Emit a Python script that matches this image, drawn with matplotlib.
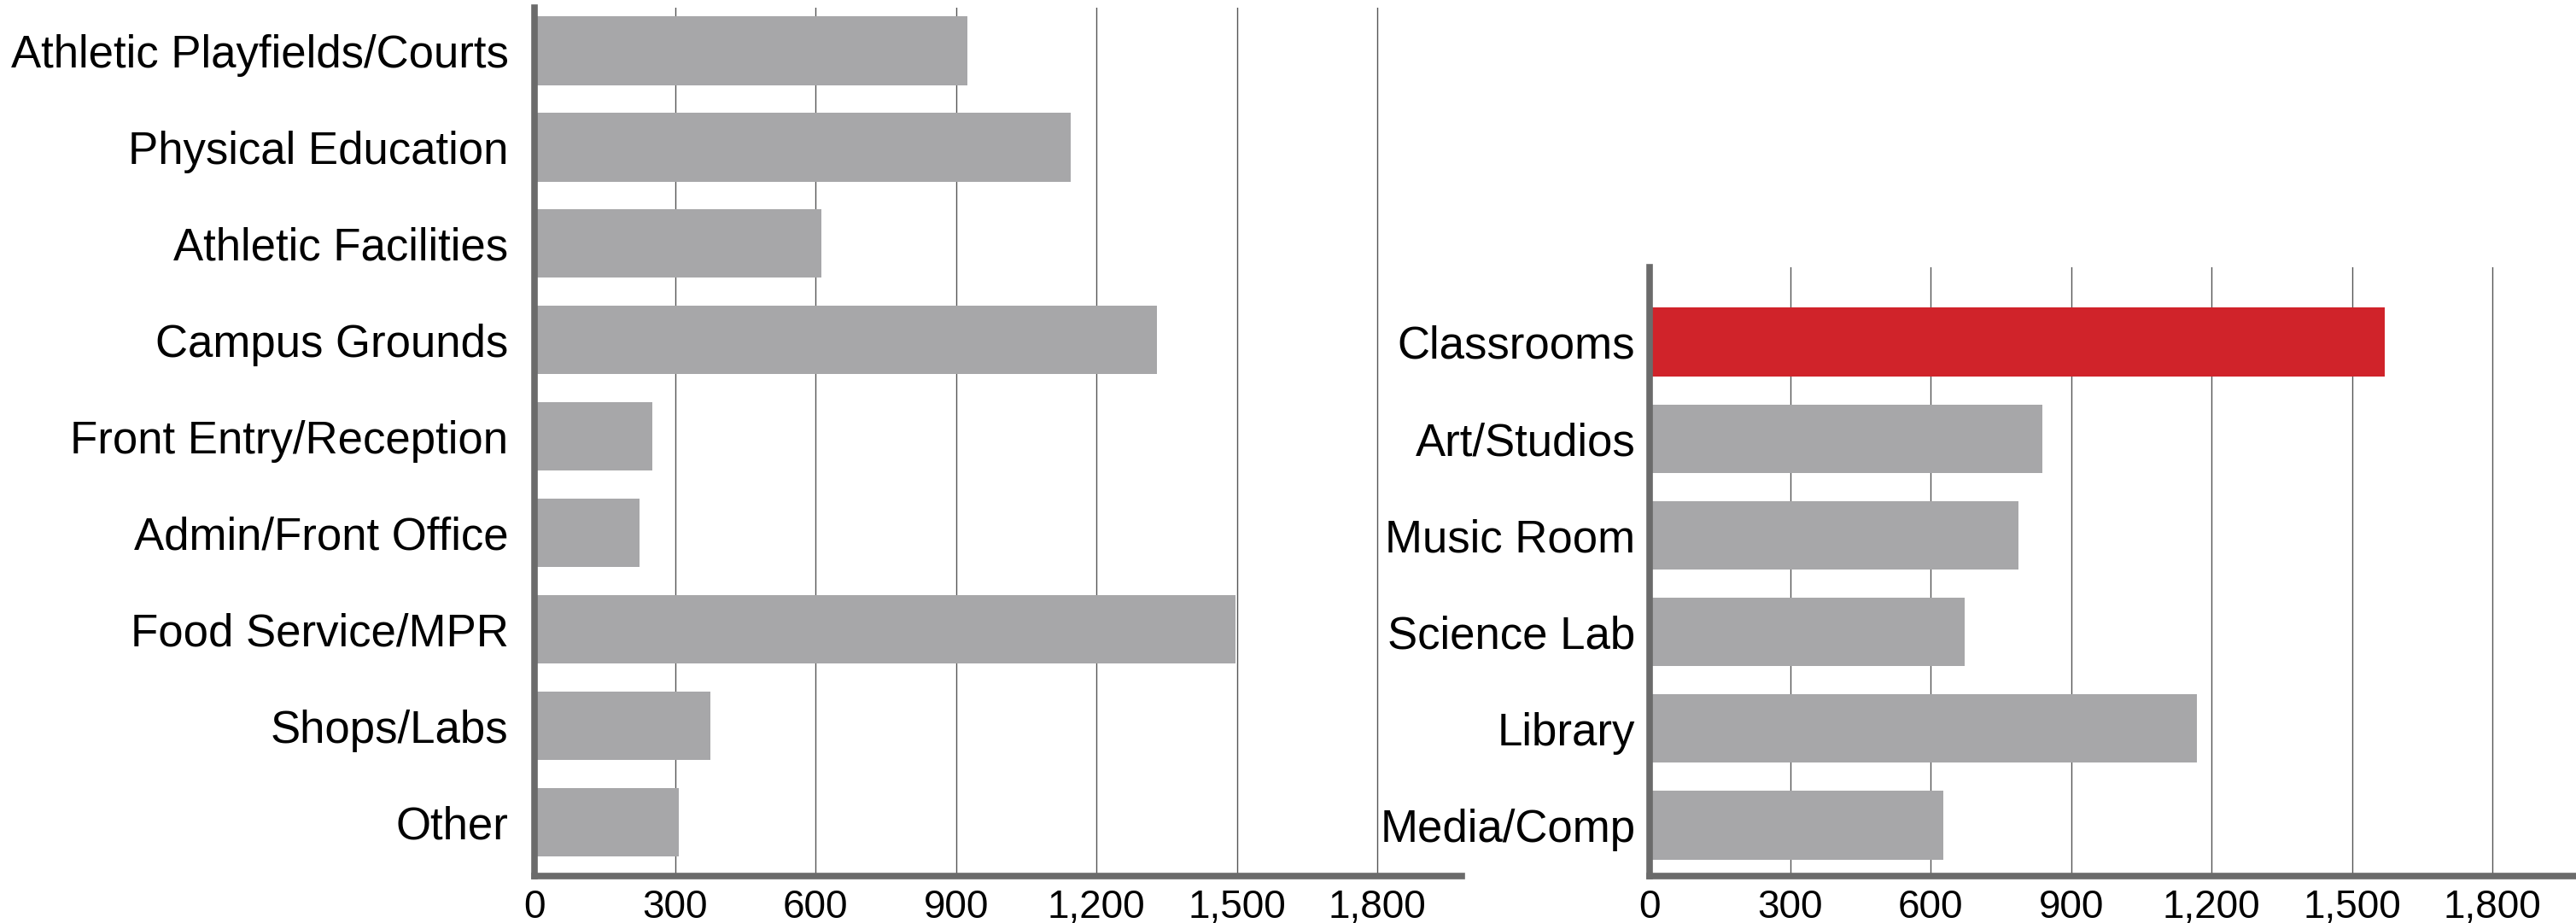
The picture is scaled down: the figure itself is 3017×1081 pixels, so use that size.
import matplotlib
matplotlib.use('Agg')
import matplotlib.pyplot as plt
from matplotlib.ticker import FuncFormatter

plt.rcParams['font.family'] = ['Liberation Sans', 'DejaVu Sans']

# ── data ────────────────────────────────────────────────────────────────
left_labels = ['Athletic Playfields/Courts', 'Physical Education', 'Athletic Facilities',
               'Campus Grounds', 'Front Entry/Reception', 'Admin/Front Office',
               'Food Service/MPR', 'Shops/Labs', 'Other']
left_values = [925, 1145, 612, 1329, 252, 224, 1497, 376, 309]

right_labels = ['Classrooms', 'Art/Studios', 'Music Room', 'Science Lab', 'Library', 'Media/Comp']
right_values = [1570, 838, 788, 672, 1168, 627]
highlight = 'Classrooms'

xticks = [0, 300, 600, 900, 1200, 1500, 1800]

GRAY = '#a7a7a9'
RED = '#d0232a'
SPINE = '#6b6b6b'
GRID = '#555555'

W, H = 3017, 1081
fig = plt.figure(figsize=(W / 100, H / 100), dpi=100)
fig.patch.set_facecolor('white')


def panel(rect, labels, values, ylim, label_pad):
    ax = fig.add_axes(rect)
    pos = list(range(len(labels)))
    colors = [RED if l == highlight else GRAY for l in labels]
    ax.barh(pos, values, height=0.71, color=colors, zorder=2)
    ax.set_xlim(0, 1980)
    ax.set_ylim(ylim)
    ax.set_yticks(pos)
    ax.set_yticklabels(labels, fontsize=38, color='black')
    ax.set_xticks(xticks)
    ax.xaxis.set_major_formatter(FuncFormatter(lambda v, p: f'{int(v):,}'))
    for t in ax.get_xticklabels():
        t.set_fontsize(33)
    ax.tick_params(axis='x', length=0, pad=11)
    ax.tick_params(axis='y', length=0, pad=label_pad)
    for v in xticks[1:]:
        ax.axvline(v, color=GRID, lw=1.0, zorder=1)
    for s in ('top', 'right'):
        ax.spines[s].set_visible(False)
    for s in ('left', 'bottom'):
        ax.spines[s].set_color(SPINE)
        ax.spines[s].set_linewidth(5.5)
        ax.spines[s].set_zorder(3)
    return ax


# left panel: x0 at 626px, y from 9px to 1026px
panel([626 / W, (H - 1026) / H, 1086 / W, (1026 - 9) / H],
      left_labels, left_values, (8.558, -0.447), 22)

# right panel: x0 at 1932px, y from 313px to 1026px
panel([1932 / W, (H - 1026) / H, 1086 / W, (1026 - 313) / H],
      right_labels, right_values, (5.526, -0.773), 12)

plt.savefig('out.png', dpi=100, facecolor='white')
plt.close()
